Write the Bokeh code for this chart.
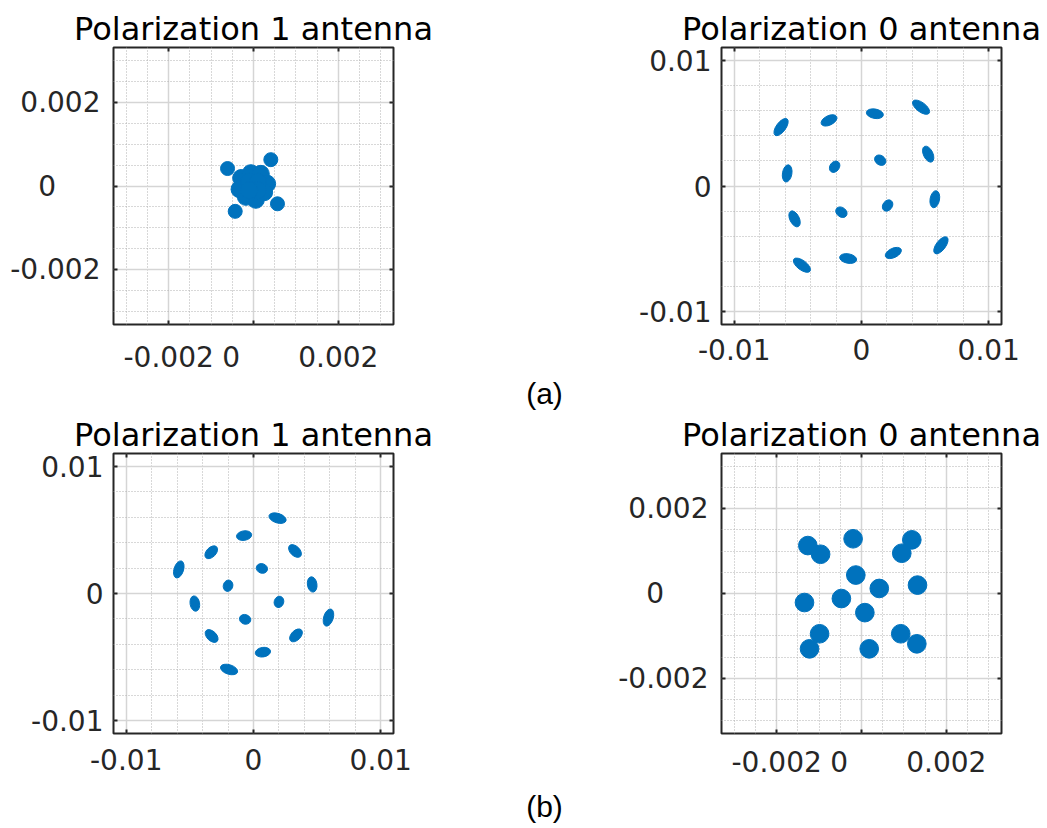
import math
from bokeh.plotting import figure
from bokeh.models import FixedTicker, LinearAxis, Range1d, Label, ColumnDataSource
from bokeh.layouts import row, column
from bokeh.embed import file_html
from bokeh.resources import INLINE

# ---------------- data ----------------
titles = ["Polarization 1 antenna", "Polarization 0 antenna",
          "Polarization 1 antenna", "Polarization 0 antenna"]
captions = ["(a)", "(b)"]

# fine scale axes (a-left, b-right); the "0" label sits left of its tick in the original
fine_major = [-0.002, 0.0, 0.002]
fine_labels = ["-0.002", "0\u2007\u2007\u2008", "0.002"]
fine_minor = [-0.003, -0.0025, -0.0015, -0.001, -0.0005,
              0.0005, 0.001, 0.0015, 0.0025, 0.003]
fine_lim = 0.0033

# coarse scale axes (a-right, b-left)
coarse_major = [-0.01, 0.0, 0.01]
coarse_labels = ["-0.01", "0", "0.01"]
coarse_minor = [-0.008, -0.006, -0.004, -0.002, 0.002, 0.004, 0.006, 0.008]
coarse_lim = 0.011

# (a) left: collapsed inner points + 4 outer points
a1_core_i = [-0.00029, -0.000063, 0.000172, 0.000322, 0.000251, 0.000055,
             -0.00018, -0.000329, -0.0001, 0.0001, 0.0001, -0.0001]
a1_core_q = [0.00019, 0.000306, 0.00029, 0.000055, -0.000149, -0.000329,
             -0.000259, -0.000078, 0.0001, 0.0001, -0.0001, -0.0001]
a1_outer_i = [-0.000612, 0.000408, 0.000565, -0.000431]
a1_outer_q = [0.000416, 0.000627, -0.000424, -0.000604]

# (a) right: rotated 16-QAM
a2_i = [-0.00632, -0.00255, 0.00105, 0.00468, -0.00584, -0.00211, 0.00147, 0.00524,
        -0.00526, -0.00158, 0.00205, 0.00576, -0.00468, -0.00105, 0.00250, 0.00624]
a2_q = [0.00468, 0.00521, 0.00574, 0.00626, 0.00100, 0.00153, 0.00205, 0.00253,
        -0.00261, -0.00208, -0.00155, -0.00105, -0.00629, -0.00576, -0.00532, -0.00471]

# (b) left: rotated 16-QAM
b1_i = [0.00189, -0.00074, -0.00332, 0.00326, -0.00587, 0.00066, -0.00200, 0.00461,
        -0.00461, 0.00200, -0.00066, 0.00589, -0.00329, 0.00334, 0.00074, -0.00192]
b1_q = [0.00592, 0.00455, 0.00324, 0.00334, 0.00189, 0.00197, 0.00061, 0.00071,
        -0.00079, -0.00066, -0.00203, -0.00189, -0.00334, -0.00329, -0.00461, -0.00597]

# (b) right: distorted 16-point constellation
b2_i = [-0.001265, -0.000964, -0.000198, 0.001186, 0.000949, -0.000134, 0.000419, 0.00132,
        -0.000474, -0.001344, 0.000079, -0.000988, -0.001225, 0.000182, 0.000925, 0.001304]
b2_q = [0.00113, 0.000925, 0.00129, 0.001265, 0.000949, 0.000435, 0.000119, 0.000198,
        -0.000119, -0.000213, -0.000451, -0.000949, -0.001304, -0.001304, -0.000949, -0.001186]

# ---------------- style ----------------
BLUE = "#0072BD"
AXC = "#262626"
FONT = "DejaVu Sans"
TICK_FS = "28px"
FRAME = 280


def style_axis(ax, major, minor, labels, standoff, mirror=False):
    ax.ticker = FixedTicker(ticks=major, minor_ticks=minor)
    ax.major_label_overrides = {t: l for t, l in zip(major, labels)}
    ax.axis_line_color = None
    ax.major_tick_in = 4
    ax.major_tick_out = 0
    ax.major_tick_line_color = AXC
    ax.major_tick_line_width = 2
    ax.minor_tick_in = 0
    ax.minor_tick_out = 0
    ax.minor_tick_line_color = None
    ax.major_label_text_font = FONT
    if mirror:
        ax.major_label_text_font_size = "1px"
        ax.major_label_text_color = None
        ax.major_label_standoff = 0
    else:
        ax.major_label_text_font_size = TICK_FS
        ax.major_label_text_color = AXC
        ax.major_label_standoff = standoff


def panel(title, lim, major, minor, labels, left, right, top, bottom, ystand, xstand):
    p = figure(width=left + FRAME + right, height=top + FRAME + bottom,
               x_range=Range1d(-lim, lim), y_range=Range1d(-lim, lim),
               output_backend="svg", toolbar_location=None,
               min_border_left=left, min_border_right=right,
               min_border_top=top, min_border_bottom=bottom)
    p.title.text = title
    p.title.align = "center"
    p.title.text_font = FONT
    p.title.text_font_size = "32px"
    p.title.text_font_style = "normal"
    p.title.text_color = "black"
    p.title.standoff = 0
    p.add_layout(LinearAxis(), "right")
    p.add_layout(LinearAxis(), "above")
    for ax in p.below:
        style_axis(ax, major, minor, labels, xstand)
    for ax in p.left:
        style_axis(ax, major, minor, labels, ystand)
    for ax in p.right + p.above:
        if isinstance(ax, LinearAxis):
            style_axis(ax, major, minor, labels, 0, mirror=True)
    p.outline_line_color = AXC
    p.outline_line_width = 2
    p.background_fill_color = "white"
    p.border_fill_color = "white"
    for g in (p.xgrid, p.ygrid):
        g.grid_line_color = "#d5d5d5"
        g.grid_line_width = 1.5
        g.minor_grid_line_color = "#b0b0b0"
        g.minor_grid_line_width = 1
        g.minor_grid_line_dash = "1 2"
    return p


def add_phase_noise_clusters(p, xs, ys):
    # blobs stretched tangentially (phase noise grows with amplitude)
    r = [math.hypot(x, y) for x, y in zip(xs, ys)]
    src = ColumnDataSource(dict(
        x=xs, y=ys,
        w=[0.00065 + 0.12 * ri for ri in r],
        h=[0.00075] * len(xs),
        a=[math.atan2(y, x) + math.pi / 2 for x, y in zip(xs, ys)],
    ))
    p.ellipse(x="x", y="y", width="w", height="h", angle="a", source=src,
              fill_color=BLUE, line_color=BLUE, line_width=1)


# top-left
p1 = panel(titles[0], fine_lim, fine_major, fine_minor, fine_labels,
           113, 42, 47, 49, 13, 16)
p1.circle(x=a1_core_i, y=a1_core_q, radius=0.0002, fill_color=BLUE, line_color=BLUE)
p1.circle(x=a1_outer_i, y=a1_outer_q, radius=0.000165, fill_color=BLUE, line_color=BLUE)

# top-right
p2 = panel(titles[1], coarse_lim, coarse_major, coarse_minor, coarse_labels,
           286, 44, 47, 49, 10, 14)
add_phase_noise_clusters(p2, a2_i, a2_q)

# bottom-left
p3 = panel(titles[2], coarse_lim, coarse_major, coarse_minor, coarse_labels,
           113, 42, 43, 50, 10, 15)
add_phase_noise_clusters(p3, b1_i, b1_q)

# bottom-right
p4 = panel(titles[3], fine_lim, fine_major, fine_minor, fine_labels,
           286, 44, 43, 50, 13, 12)
p4.circle(x=b2_i, y=b2_q, radius=0.00022, fill_color=BLUE, line_color=BLUE)


def caption(text, w, h, cx, cy):
    c = figure(width=w, height=h, x_range=Range1d(0, w), y_range=Range1d(0, h),
               output_backend="svg", toolbar_location=None,
               x_axis_location=None, y_axis_location=None,
               min_border=0)
    c.grid.visible = False
    c.outline_line_color = None
    c.add_layout(Label(x=cx, y=cy, text=text, text_align="center",
                       text_baseline="middle", text_font="Liberation Sans",
                       text_font_size="30px", text_color="black"))
    return c


ca = caption(captions[0], 1031, 34, 544, 17)
cb = caption(captions[1], 1031, 43, 544, 20)

layout = column(row(p1, p2), ca, row(p3, p4), cb)

open("out.html", "w").write(file_html(layout, INLINE))
